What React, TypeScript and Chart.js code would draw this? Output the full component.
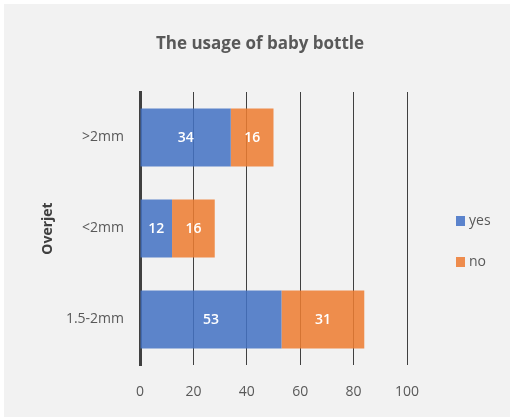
import React, { useEffect, useRef } from "react";
import { Chart, registerables } from "chart.js";

Chart.register(...registerables);

const categories = [">2mm", "<2mm", "1.5-2mm"];
const yesValues = [34, 12, 53];
const noValues = [16, 16, 31];
const xTicks = [0, 20, 40, 60, 80, 100];

const chartTitle = "The usage of baby bottle";
const axisTitle = "Overjet";

const FONT = "'Open Sans', 'Noto Sans', sans-serif";
const TEXT = "#595959";

// Values printed in the middle of each bar segment
const barValueLabels = {
  id: "barValueLabels",
  afterDatasetsDraw(chart: any) {
    const { ctx } = chart;
    ctx.save();
    ctx.font = `600 14px ${FONT}`;
    ctx.fillStyle = "#ffffff";
    ctx.textAlign = "center";
    ctx.textBaseline = "middle";
    chart.data.datasets.forEach((ds: any, di: number) => {
      const meta = chart.getDatasetMeta(di);
      meta.data.forEach((bar: any, i: number) => {
        const p = bar.getProps(["x", "y", "base"], true);
        ctx.fillText(String(ds.data[i]), (p.x + p.base) / 2, p.y + 1);
      });
    });
    ctx.restore();
  },
};

// Chart heading and the series key on the right
const headingAndKey = {
  id: "headingAndKey",
  afterDraw(chart: any) {
    const { ctx, chartArea } = chart;
    ctx.save();
    ctx.font = `bold 17px ${FONT}`;
    ctx.fillStyle = TEXT;
    ctx.textAlign = "center";
    ctx.textBaseline = "middle";
    ctx.fillText(chartTitle, 256, 40);

    ctx.font = `14px ${FONT}`;
    ctx.textAlign = "left";
    const startY = 217;
    chart.data.datasets.forEach((ds: any, i: number) => {
      const y = startY + i * 41;
      ctx.fillStyle = ds.swatch;
      ctx.fillRect(chartArea.right + 49, y - 5, 9, 10);
      ctx.fillStyle = TEXT;
      ctx.fillText(ds.label, chartArea.right + 62, y);
    });
    ctx.restore();
  },
};

export default function App() {
  const canvasRef = useRef<HTMLCanvasElement | null>(null);

  useEffect(() => {
    if (!canvasRef.current) return;
    const chart = new Chart(canvasRef.current, {
      type: "bar",
      data: {
        labels: categories,
        datasets: [
          {
            label: "yes",
            data: yesValues,
            backgroundColor: "rgba(68,114,196,0.86)",
            swatch: "#5b83cc",
            stack: "s",
          } as any,
          {
            label: "no",
            data: noValues,
            backgroundColor: "rgba(237,125,49,0.86)",
            swatch: "#ee8c4d",
            stack: "s",
          } as any,
        ],
      },
      options: {
        indexAxis: "y",
        responsive: false,
        animation: false,
        devicePixelRatio: 1,
        layout: { padding: { top: 88, right: 103, bottom: 16, left: 0 } },
        datasets: {
          bar: { categoryPercentage: 1, barPercentage: 0.64 },
        },
        plugins: {
          legend: { display: false },
          title: { display: false },
          tooltip: { enabled: false },
        },
        scales: {
          x: {
            stacked: true,
            min: 0,
            max: 100,
            afterBuildTicks(scale: any) {
              scale.ticks = xTicks.map((v) => ({ value: v }));
            },
            afterFit(scale: any) {
              scale.height = 36;
            },
            grid: { color: "#404040", lineWidth: 1, drawTicks: false },
            border: { display: false },
            ticks: {
              padding: 19,
              color: TEXT,
              font: { family: FONT, size: 14 },
            },
          },
          y: {
            stacked: true,
            afterFit(scale: any) {
              scale.width = 136;
            },
            grid: { display: false, drawTicks: false },
            border: { display: true, color: "#404040", width: 3 },
            title: {
              display: true,
              text: axisTitle,
              color: "#404040",
              font: { family: FONT, size: 14, weight: "bold" },
              padding: { top: 36, bottom: 0 },
            },
            ticks: {
              padding: 16,
              color: TEXT,
              font: { family: FONT, size: 14 },
            },
          },
        },
      },
      plugins: [barValueLabels, headingAndKey],
    });
    return () => chart.destroy();
  }, []);

  return (
    <div
      style={{
        position: "fixed",
        left: 0,
        top: 0,
        width: 510,
        height: 417,
        background: "#ffffff",
      }}
    >
      <div
        style={{
          position: "absolute",
          left: 4,
          top: 4,
          width: 506,
          height: 413,
          background: "#f2f2f2",
        }}
      >
        <canvas ref={canvasRef} width={506} height={413} style={{ display: "block" }} />
      </div>
    </div>
  );
}
